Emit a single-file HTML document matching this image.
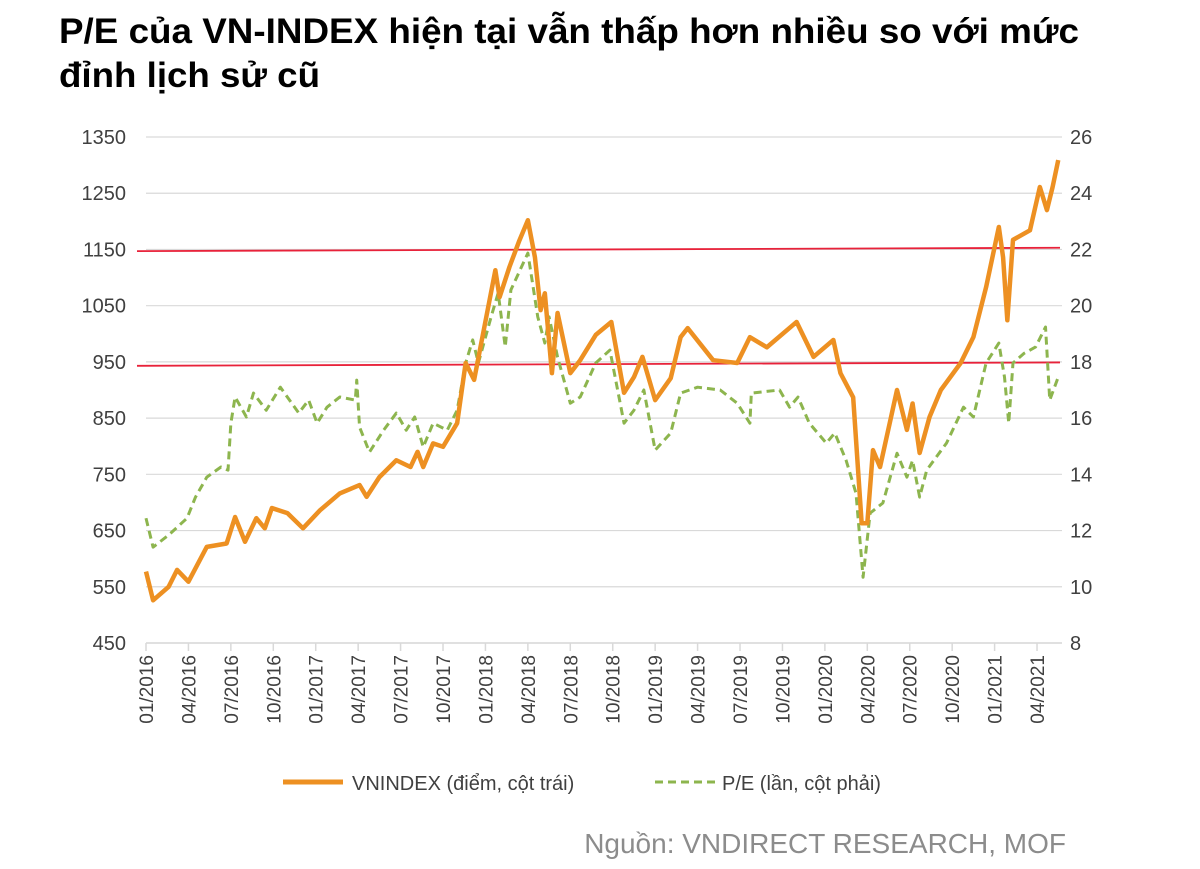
<!DOCTYPE html>
<html><head><meta charset="utf-8"><style>
body{margin:0;background:#fff;width:1200px;height:869px;overflow:hidden;font-family:"Liberation Sans",Arial,sans-serif}
svg{position:absolute;left:0;top:0}
</style></head><body>
<svg id="c" width="1200" height="869">
<text x="59" y="43" font-size="35" font-weight="bold" fill="#000" textLength="1020" lengthAdjust="spacingAndGlyphs">P/E của VN-INDEX hiện tại vẫn thấp hơn nhiều so với mức</text>
<text x="59" y="87" font-size="35" font-weight="bold" fill="#000" textLength="261" lengthAdjust="spacingAndGlyphs">đỉnh lịch sử cũ</text>
<g id="grid"></g><g id="marks"></g><g id="axes"></g>
<g>
<line x1="283" y1="782" x2="343" y2="782" stroke="#ED9022" stroke-width="5"/>
<text x="352" y="790" font-size="20" fill="#404040">VNINDEX (điểm, cột trái)</text>
<line x1="655" y1="782" x2="715" y2="782" stroke="#8DB54E" stroke-width="3" stroke-dasharray="8,5"/>
<text x="722" y="790" font-size="20" fill="#404040">P/E (lần, cột phải)</text>
</g>
<text x="1066" y="853" font-size="28" fill="#8c8c8c" text-anchor="end">Nguồn: VNDIRECT RESEARCH, MOF</text>
</svg>
<script>
const xTickLabels=["01/2016","04/2016","07/2016","10/2016","01/2017","04/2017","07/2017","10/2017","01/2018","04/2018","07/2018","10/2018","01/2019","04/2019","07/2019","10/2019","01/2020","04/2020","07/2020","10/2020","01/2021","04/2021"];
const leftTicks=[450,550,650,750,850,950,1050,1150,1250,1350];
const rightTicks=[8,10,12,14,16,18,20,22,24,26];
const vnMonths=[0,0.5,1.6,2.2,3.0,4.3,5.7,6.3,7.0,7.8,8.4,8.9,10,11.1,12.3,13.7,15.1,15.6,16.5,17.7,18.7,19.2,19.6,20.3,21,22,22.6,23.2,24.7,25,25.7,26.4,27,27.5,27.9,28.2,28.7,29.1,30,30.7,31.8,32.9,33.8,34.5,35.1,36,37.1,37.8,38.3,40.1,41.8,42.7,43.9,46,47.2,48.6,49.1,50,50.6,51,51.4,51.9,53.1,53.8,54.2,54.7,55.4,56.2,57.6,58.5,59.4,60.3,60.6,60.9,61.3,62.5,63.2,63.7,64.1,64.5];
const vnValues=[577,526,550,580,559,621,627,674,630,672,654,690,681,654,686,716,731,710,745,775,763,790,763,805,799,841,948,918,1113,1065,1119,1166,1202,1136,1042,1072,930,1037,930,953,998,1021,895,923,959,882,921,994,1010,953,948,994,976,1021,959,989,930,887,663,663,793,763,900,829,876,788,852,900,948,994,1083,1190,1136,1024,1167,1184,1261,1220,1261,1309];
const peMonths=[0,0.5,1.6,2.9,3.5,4.3,5.3,5.8,6.0,6.3,7.1,7.6,8.5,9.5,10.8,11.5,12.1,12.8,13.7,14.8,14.9,15.1,15.8,16.8,17.7,18.4,19.0,19.6,20.3,21.3,22,22.6,23.1,23.5,24.4,24.9,25.4,25.8,27,27.7,28.2,28.5,29.1,30,30.7,31.8,32.8,33.8,34.5,35.2,36,37.1,37.8,39,40.6,41.8,42.7,42.8,44.8,45.5,46.1,46.9,48.1,48.7,49.5,50.2,50.7,51.2,52.1,53.1,53.8,54.2,54.7,55.2,56.6,57.8,58.5,59.4,60.3,60.7,61,61.3,62.1,62.9,63.6,63.9,64.5];
const peValues=[12.44,11.41,11.84,12.44,13.19,13.9,14.26,14.15,15.82,16.75,16.04,16.89,16.28,17.1,16.18,16.64,15.82,16.39,16.75,16.64,17.35,15.68,14.79,15.57,16.18,15.57,16.04,14.97,15.82,15.57,16.28,17.96,18.78,17.96,19.6,20.45,18.53,20.56,21.87,19.6,18.67,19.6,18.17,16.53,16.75,17.96,18.42,15.82,16.28,17.0,14.86,15.47,16.89,17.1,17.0,16.53,15.82,16.89,17.0,16.39,16.75,15.82,15.11,15.47,14.5,13.33,10.34,12.62,12.98,14.75,13.9,14.5,13.19,14.15,15.11,16.39,16.04,17.96,18.67,17.46,15.82,17.96,18.31,18.53,19.24,16.64,17.46];
const refLines=[[1147,1153],[943,949]];
const NS="http://www.w3.org/2000/svg";
const X0=146,XSTEP=42.43/3,Y0=137,Y1=643,PX1=1062;
const x=m=>X0+m*XSTEP;
const yL=v=>Y0+(1350-v)/900*(Y1-Y0);
const yR=v=>Y0+(26-v)/18*(Y1-Y0);
function mk(p,t,a){const e=document.createElementNS(NS,t);for(const k in a)e.setAttribute(k,a[k]);p.appendChild(e);return e;}
const grid=document.getElementById('grid'),marks=document.getElementById('marks'),axes=document.getElementById('axes');
leftTicks.forEach((v,i)=>{
 const g=mk(grid,'line',{x1:X0,x2:PX1,y1:yL(v),y2:yL(v),stroke:'#d9d9d9','stroke-width':1.2});
 
 
 const t=mk(axes,'text',{x:126,y:yL(v)+7,'font-size':20,fill:'#404040','text-anchor':'end'});t.textContent=v;
 
 
});
rightTicks.forEach(v=>{
 const t=mk(axes,'text',{x:1070,y:yR(v)+7,'font-size':20,fill:'#404040'});t.textContent=v;
 
 
});
const ax=mk(axes,'line',{x1:X0,x2:PX1,y1:Y1,y2:Y1,stroke:'#d9d9d9','stroke-width':1.5});


xTickLabels.forEach((l,i)=>{
 const xx=x(i*3);
 const tk=mk(axes,'line',{x1:xx,x2:xx,y1:Y1,y2:Y1+8,stroke:'#d9d9d9','stroke-width':1.5});
 
 
 const t=mk(axes,'text',{x:0,y:0,'font-size':19,fill:'#404040','text-anchor':'end',transform:`translate(${xx+7},${Y1+12}) rotate(-90)`});t.textContent=l;
 
 
});
refLines.forEach(r=>{
 const l=mk(marks,'line',{x1:137,x2:PX1-2,y1:yL(r[0]),y2:yL(r[1]),stroke:'#E8223A','stroke-width':1.8});
 
 
});
const pe=mk(marks,'polyline',{points:peMonths.map((m,i)=>x(m)+','+yR(peValues[i])).join(' '),fill:'none',stroke:'#8DB54E','stroke-width':3,'stroke-dasharray':'8,5','stroke-linejoin':'round'});


const vn=mk(marks,'polyline',{points:vnMonths.map((m,i)=>x(m)+','+yL(vnValues[i])).join(' '),fill:'none',stroke:'#ED9022','stroke-width':4.5,'stroke-linejoin':'round'});


</script>
</body></html>
